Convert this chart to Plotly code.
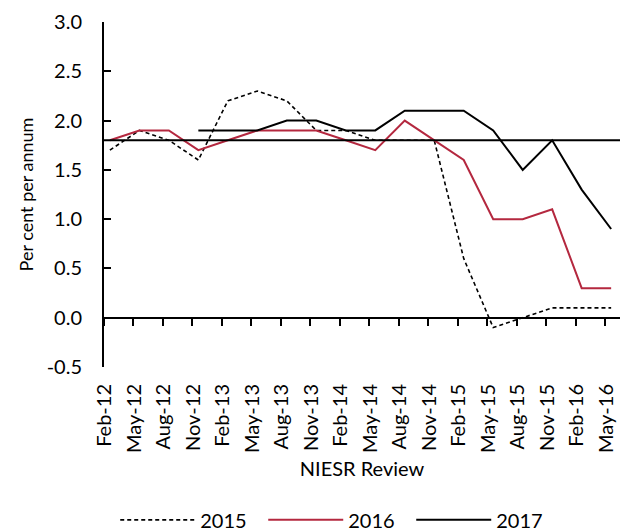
import plotly.graph_objects as go

categories = ["Feb-12", "May-12", "Aug-12", "Nov-12", "Feb-13", "May-13", "Aug-13", "Nov-13",
              "Feb-14", "May-14", "Aug-14", "Nov-14", "Feb-15", "May-15", "Aug-15", "Nov-15",
              "Feb-16", "May-16"]
s2015 = [1.7, 1.9, 1.8, 1.6, 2.2, 2.3, 2.2, 1.9, 1.9, 1.8, 1.8, 1.8, 0.6, -0.1, 0.0, 0.1, 0.1, 0.1]
s2016 = [1.8, 1.9, 1.9, 1.7, 1.8, 1.9, 1.9, 1.9, 1.8, 1.7, 2.0, 1.8, 1.6, 1.0, 1.0, 1.1, 0.3, 0.3]
s2017 = [None, None, None, 1.9, 1.9, 1.9, 2.0, 2.0, 1.9, 1.9, 2.1, 2.1, 2.1, 1.9, 1.5, 1.8, 1.3, 0.9]
reference_level = 1.8
y_ticks = [-0.5, 0.0, 0.5, 1.0, 1.5, 2.0, 2.5, 3.0]
y_tick_labels = [f"{v:.1f}" for v in y_ticks]

xpos = list(range(len(categories)))
label_pos = [i - 0.17 for i in xpos]
tick_pos = [i - 0.2 for i in xpos]
FONT = "Lato, 'Open Sans', sans-serif"
RED = "#B4283F"

fig = go.Figure()
fig.add_trace(go.Scatter(x=xpos, y=s2015, mode="lines", name="2015",
                         line=dict(color="black", width=1.6, dash="4px,3px")))
fig.add_trace(go.Scatter(x=xpos, y=s2016, mode="lines", name="2016",
                         line=dict(color=RED, width=2)))
fig.add_trace(go.Scatter(x=xpos, y=s2017, mode="lines", name="2017",
                         line=dict(color="black", width=2), connectgaps=False))
fig.add_trace(go.Scatter(x=xpos, y=[None] * len(xpos), xaxis="x2", showlegend=False,
                         hoverinfo="skip", mode="lines"))

fig.add_hline(y=reference_level, line=dict(color="black", width=2), layer="above")

fig.update_layout(
    width=621, height=531,
    margin=dict(l=104, r=1, t=22, b=164, autoexpand=False),
    paper_bgcolor="white", plot_bgcolor="white",
    font=dict(family=FONT, size=20, color="black"),
    showlegend=True,
    legend=dict(orientation="h", x=0.452, xanchor="center", y=-0.443, yanchor="middle",
                font=dict(size=20), itemwidth=75, entrywidth=58, entrywidthmode="pixels",
                traceorder="normal"),
    xaxis=dict(range=[-0.2, 17.3], tickvals=label_pos, ticktext=categories, tickangle=-90,
               showgrid=False, zeroline=False, showline=False, ticks="",
               ticklabelstandoff=12, automargin=False,
               title=dict(text="NIESR Review", standoff=10, font=dict(size=20))),
    xaxis2=dict(overlaying="x", matches="x", anchor="free", position=1 / 7,
                tickvals=tick_pos, showticklabels=False, ticks="outside", ticklen=7,
                tickwidth=2, tickcolor="black", showline=False, showgrid=False,
                zeroline=False),
    yaxis=dict(range=[-0.5, 3.0], tickvals=y_ticks, ticktext=y_tick_labels,
               showgrid=False, zeroline=True, zerolinecolor="black", zerolinewidth=2,
               showline=True, linecolor="black", linewidth=2,
               ticks="inside", ticklen=7, tickwidth=2, tickcolor="black",
               ticklabelstandoff=16, automargin=False,
               title=dict(text="Per cent per annum", standoff=8, font=dict(size=18))),
)

fig.write_html("out.html", config={"displayModeBar": False},
               post_script="document.body.style.margin='0';")
